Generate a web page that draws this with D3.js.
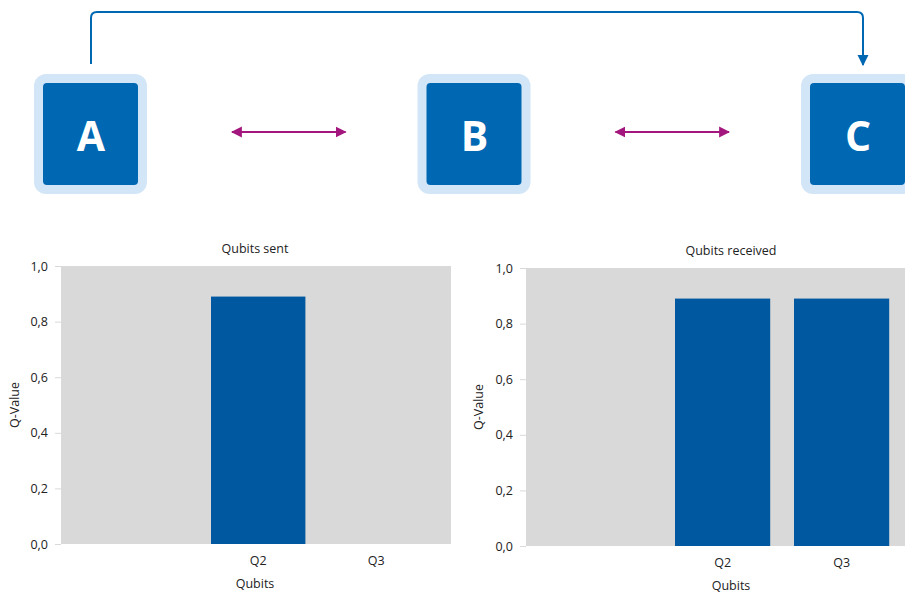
<!DOCTYPE html>
<html>
<head>
<meta charset="utf-8">
<script src="https://cdn.jsdelivr.net/npm/d3@7"></script>
<style>
  body { margin: 0; background: #fff; }
  svg { display: block; font-family: "Open Sans", sans-serif; }
</style>
</head>
<body>
<svg id="chart" width="905" height="594"></svg>
<script>
// nodes of the diagram
var nodes = ['A', 'B', 'C'];

// bar charts
var categories = ['', 'Q2', 'Q3'];
var sentValues = [0, 0.89, 0];
var receivedValues = [0, 0.89, 0.89];
var yTicks = [0, 0.2, 0.4, 0.6, 0.8, 1.0];

var svg = d3.select('#chart');
var blue = '#0068b3';
var lightBlue = '#d3e6f7';
var barBlue = '#0059a0';
var magenta = '#a2167d';
var fs = 12.5;

var defs = svg.append('defs');
defs.append('marker').attr('id', 'mag').attr('viewBox', '0 0 10 10')
  .attr('refX', 9).attr('refY', 5).attr('markerWidth', 11).attr('markerHeight', 12)
  .attr('markerUnits', 'userSpaceOnUse').attr('orient', 'auto-start-reverse')
  .append('path').attr('d', 'M0,0L10,5L0,10z').attr('fill', magenta);
defs.append('marker').attr('id', 'blu').attr('viewBox', '0 0 10 10')
  .attr('refX', 9).attr('refY', 5).attr('markerWidth', 11).attr('markerHeight', 12)
  .attr('markerUnits', 'userSpaceOnUse').attr('orient', 'auto')
  .append('path').attr('d', 'M0,0L10,5L0,10z').attr('fill', blue);

// ---- diagram ----
var nx = d3.scalePoint().domain(nodes).range([91, 858]);
var boxY = 134;

var g = svg.selectAll('g.node').data(nodes).enter().append('g')
  .attr('class', 'node')
  .attr('transform', function (d) { return 'translate(' + nx(d) + ',' + boxY + ')'; });
g.append('rect').attr('x', -57).attr('y', -60).attr('width', 113).attr('height', 120)
  .attr('rx', 12).attr('fill', lightBlue);
g.append('rect').attr('x', -48).attr('y', -51).attr('width', 95).attr('height', 102)
  .attr('rx', 4).attr('fill', blue);
g.append('text').attr('text-anchor', 'middle').attr('y', 17)
  .attr('fill', '#fff').attr('font-size', 41).attr('font-weight', 700)
  .text(function (d) { return d; });

// magenta double arrows between neighbours
for (var i = 0; i < nodes.length - 1; i++) {
  var x0 = nx(nodes[i]), x1 = nx(nodes[i + 1]);
  svg.append('line').attr('x1', x0 + 141).attr('x2', x1 - 129)
    .attr('y1', 132).attr('y2', 132)
    .attr('stroke', magenta).attr('stroke-width', 2)
    .attr('marker-start', 'url(#mag)').attr('marker-end', 'url(#mag)');
}

// blue connector A -> C
var ax = nx('A'), cx = nx('C') + 5, r = 6;
svg.append('path')
  .attr('d', 'M' + ax + ',64 V' + (12 + r) + ' Q' + ax + ',12 ' + (ax + r) + ',12 H' + (cx - r) +
    ' Q' + cx + ',12 ' + cx + ',' + (12 + r) + ' V65')
  .attr('fill', 'none').attr('stroke', blue).attr('stroke-width', 2)
  .attr('marker-end', 'url(#blu)');

// ---- bar charts ----
var fmt = function (v) { return d3.format('.1f')(v).replace('.', ','); };

function barChart(opt) {
  var y = d3.scaleLinear().domain([0, 1]).range([opt.bottom, opt.top]);
  var x = d3.scaleBand().domain(categories).range(opt.bandRange).paddingInner(0.2).paddingOuter(0.1);
  var c = svg.append('g');

  c.append('rect').attr('x', opt.left).attr('y', opt.top)
    .attr('width', opt.right - opt.left).attr('height', opt.bottom - opt.top)
    .attr('fill', '#d9d9d9');

  var yAxis = d3.axisLeft(y).tickValues(yTicks).tickFormat(fmt).tickSize(6).tickPadding(7);
  var ya = c.append('g').attr('transform', 'translate(' + opt.left + ',0)').call(yAxis);
  ya.select('.domain').remove();
  ya.selectAll('.tick line').attr('stroke', '#d9d9d9');
  ya.selectAll('.tick text').attr('font-size', fs).attr('fill', '#222')
    .attr('font-family', '"Open Sans", sans-serif');

  c.selectAll('rect.bar').data(opt.values).enter().append('rect')
    .attr('class', 'bar')
    .attr('x', function (d, i) { return x(categories[i]); })
    .attr('width', x.bandwidth())
    .attr('y', function (d) { return y(d); })
    .attr('height', function (d) { return opt.bottom - y(d); })
    .attr('fill', barBlue);

  var xAxis = d3.axisBottom(x).tickSize(0).tickPadding(12);
  var xa = c.append('g').attr('transform', 'translate(0,' + opt.bottom + ')').call(xAxis);
  xa.select('.domain').remove();
  xa.selectAll('.tick text').attr('font-size', fs).attr('fill', '#222')
    .attr('font-family', '"Open Sans", sans-serif');

  c.append('text').attr('x', opt.titleX).attr('y', opt.top - 13)
    .attr('text-anchor', 'middle').attr('font-size', fs).attr('fill', '#222')
    .text(opt.title);
  c.append('text').attr('x', opt.titleX).attr('y', opt.bottom + 44)
    .attr('text-anchor', 'middle').attr('font-size', fs).attr('fill', '#222')
    .text('Qubits');
  c.append('text')
    .attr('transform', 'translate(' + opt.yLabelX + ',' + ((opt.top + opt.bottom) / 2) + ') rotate(-90)')
    .attr('text-anchor', 'middle').attr('font-size', fs).attr('fill', '#222')
    .text('Q-Value');
}

barChart({
  title: 'Qubits sent', values: sentValues,
  left: 61, right: 451, top: 266, bottom: 544,
  bandRange: [81.2, 435.2], titleX: 255, yLabelX: 19
});
barChart({
  title: 'Qubits received', values: receivedValues,
  left: 526, right: 905, top: 268, bottom: 546,
  bandRange: [544.1, 901.1], titleX: 731, yLabelX: 483
});
</script>
</body>
</html>
